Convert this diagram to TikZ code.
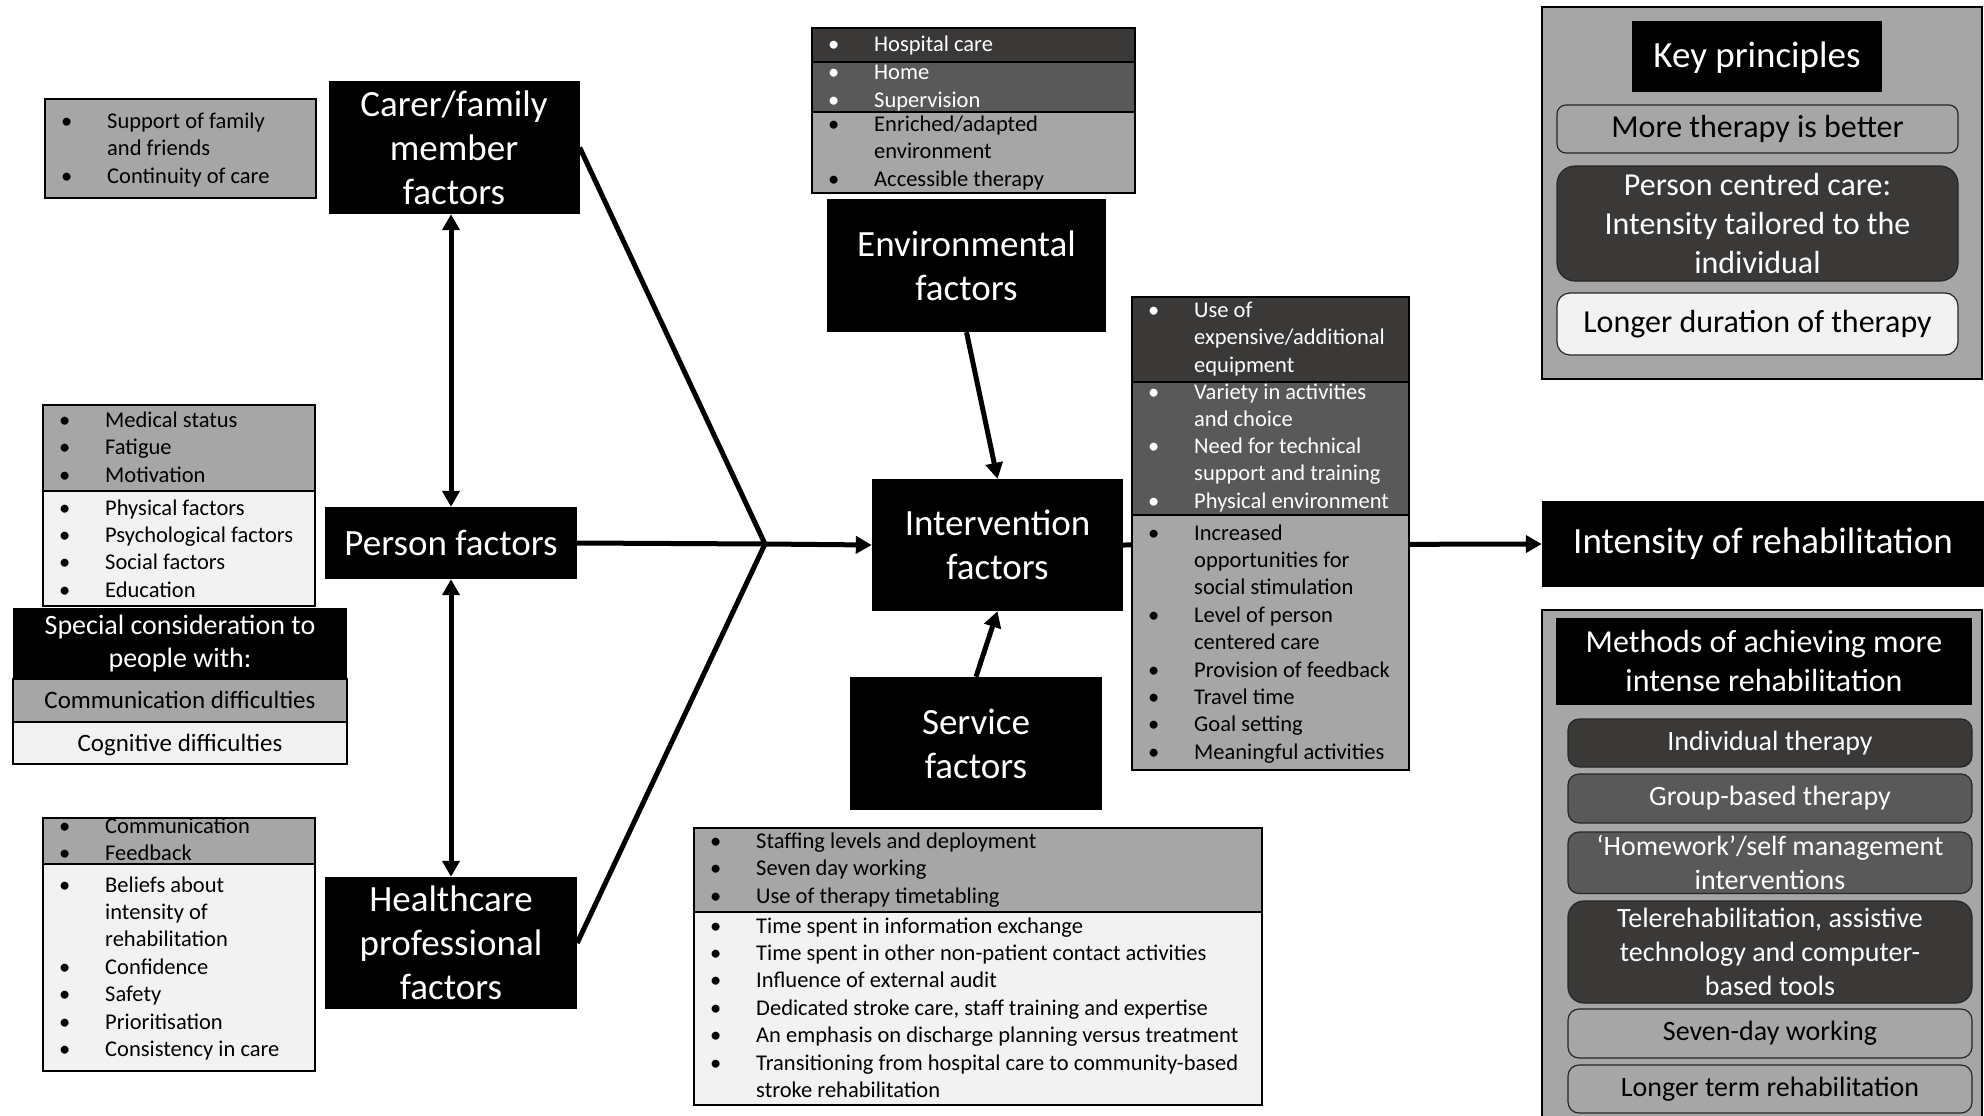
\documentclass[tikz,border=0pt]{standalone}
\usepackage{fontspec}
\setmainfont{Carlito}
\usetikzlibrary{arrows.meta}
\definecolor{gA}{HTML}{A6A6A6}
\definecolor{gL}{HTML}{F2F2F2}
\definecolor{gD}{HTML}{3B3838}
\definecolor{gM}{HTML}{595959}
\newcommand\fsz[2]{\fontsize{#1}{#2}\selectfont}
% list box: x1 y1 x2 y2 fill
\newcommand\lbox[5]{\filldraw[fill=#5, draw=black, line width=1.5pt] (#1,#2) rectangle (#3,#4);}
% bullet items: name, box-left x, first baseline, line step, text colour, list of bullet/text
\newcommand\items[6]{%
  \foreach \bul/\lbl [count=\k] in {#6} {%
    \node[lst, text=#5] (#1-\k) at (#2+62, {#3+(\k-1)*#4}) {\lbl};
    \ifnum\bul=1 \node[lst, text=#5] (#1-b\k) at (#2+16, {#3+(\k-1)*#4}) {•};\fi
  }%
}
\begin{document}
\begin{tikzpicture}[x=1pt,y=-1pt,
  blk/.style={fill=black, text=white, inner sep=0pt, align=center, font=\fsz{37}{44}},
  lst/.style={inner sep=0pt, anchor=base west, font=\fsz{22.5}{27}},
  kbox/.style={draw=black!85, line width=1.2pt, rounded corners=9pt, inner sep=0pt, align=center, font=\fsz{32}{39}},
  mbox/.style={draw=black!85, line width=1.2pt, rounded corners=11pt, inner sep=0pt, align=center, font=\fsz{28}{34}},
  conn/.style={line width=5pt},
  arr/.style={line width=5pt, -{Triangle[width=17pt,length=16pt]}},
  arrb/.style={line width=5pt, {Triangle[width=17pt,length=16pt]}-{Triangle[width=17pt,length=16pt]}}
]
\useasboundingbox (0,0) rectangle (1984,1116);
\fill[white] (0,0) rectangle (1984,1116);

% main factor boxes
\node[blk, minimum width=251, minimum height=133] (carer) at (454,147.5) {Carer/family\\member\\factors};
\node[blk, minimum width=252, minimum height=72] (person) at (451,543) {Person factors};
\node[blk, minimum width=252, minimum height=132] (hcp) at (451,943) {Healthcare\\professional\\factors};
\node[blk, minimum width=279, minimum height=133] (env) at (966.5,265.5) {Environmental\\factors};
\node[blk, minimum width=251, minimum height=132] (interv) at (997.5,545) {Intervention\\factors};
\node[blk, minimum width=252, minimum height=133] (serv) at (976,743.5) {Service\\factors};
\node[blk, minimum width=442, minimum height=86] (intens) at (1763,544) {Intensity of rehabilitation};
\coordinate (J) at (765,544);

% connectors
\draw[arrb] (person.north |- carer.south) -- (person.north);
\draw[arrb] (person.south) -- (hcp.north);
\draw[conn, line join=miter] (carer.east) -- (J) -- (hcp.east);
\draw[conn] (person.east) -- (J);
\draw[arr] (J) -- (interv.west);
\draw[arr] (env.south) -- (interv.north);
\draw[arr] (serv.north) -- (interv.south);
\draw[arr] (interv.east) -- (intens.west);

% carer list
\lbox{45}{99}{316}{198}{gA}
\items{sup}{45}{128}{27.5}{black}{1/Support of family, 0/and friends, 1/Continuity of care}

% person lists
\lbox{43}{405}{315}{491}{gA}
\items{med}{43}{427}{27.5}{black}{1/Medical status, 1/Fatigue, 1/Motivation}
\lbox{43}{491}{315}{606}{gL}
\items{phy}{43}{515}{27.4}{black}{1/Physical factors, 1/Psychological factors, 1/Social factors, 1/Education}
\node[blk, font=\fsz{28}{33}, minimum width=334, minimum height=71] (spec) at (180,643.5) {Special consideration to\\people with:};
\lbox{13}{679}{347}{722}{gA}
\node[inner sep=0pt, anchor=base, font=\fsz{25}{30}] (commd) at (180,708) {Communication difficulties};
\lbox{13}{722}{347}{764}{gL}
\node[inner sep=0pt, anchor=base, font=\fsz{25}{30}] (cogd) at (180,751) {Cognitive difficulties};

% healthcare professional lists
\lbox{43}{818}{315}{864}{gA}
\items{hc}{43}{833}{27}{black}{1/Communication, 1/Feedback}
\lbox{43}{864}{315}{1071}{gL}
\items{bel}{43}{892}{27.4}{black}{1/Beliefs about, 0/intensity of, 0/rehabilitation, 1/Confidence, 1/Safety, 1/Prioritisation, 1/Consistency in care}

% environmental lists
\lbox{812}{28}{1135}{62}{gD}
\items{hos}{812}{52}{27}{white}{1/Hospital care}
\lbox{812}{62}{1135}{112}{gM}
\items{hom}{812}{80}{27}{white}{1/Home, 1/Supervision}
\lbox{812}{112}{1135}{193}{gA}
\items{enr}{812}{131}{27.5}{black}{1/{Enriched/adapted}, 0/environment, 1/Accessible therapy}

% intervention lists
\lbox{1132}{297}{1409}{382}{gD}
\items{use}{1132}{317}{27.5}{white}{1/Use of, 0/{expensive/additional}, 0/equipment}
\lbox{1132}{382}{1409}{515}{gM}
\items{var}{1132}{399}{27.3}{white}{1/Variety in activities, 0/and choice, 1/Need for technical, 0/support and training, 1/Physical environment}
\lbox{1132}{515}{1409}{770}{gA}
\items{inc}{1132}{540}{27.4}{black}{1/Increased, 0/opportunities for, 0/social stimulation, 1/Level of person, 0/centered care, 1/Provision of feedback, 1/Travel time, 1/Goal setting, 1/Meaningful activities}

% service lists
\lbox{694}{828}{1262}{912}{gA}
\items{stf}{694}{848}{27.5}{black}{1/Staffing levels and deployment, 1/Seven day working, 1/Use of therapy timetabling}
\lbox{694}{912}{1262}{1105}{gL}
\items{tim}{694}{933}{27.4}{black}{1/Time spent in information exchange, 1/Time spent in other non-patient contact activities, 1/Influence of external audit, 1/{Dedicated stroke care, staff training and expertise}, 1/An emphasis on discharge planning versus treatment, 1/Transitioning from hospital care to community-based, 0/stroke rehabilitation}

% key principles panel
\filldraw[fill=gA, draw=black, line width=2pt] (1542,7) rectangle (1982,379);
\node[blk, minimum width=250, minimum height=71, text depth=4pt] (keyh) at (1757,56.5) {Key principles};
\node[kbox, fill=gA, minimum width=401, minimum height=48] (more) at (1757.5,129) {More therapy is better};
\node[kbox, fill=gD, text=white, rounded corners=18pt, minimum width=401, minimum height=115] (pcc) at (1757.5,223.5) {Person centred care:\\Intensity tailored to the\\individual};
\node[kbox, fill=gL, rounded corners=13pt, minimum width=401, minimum height=62] (longer) at (1757.5,324) {Longer duration of therapy};

% methods panel
\filldraw[fill=gA, draw=black, line width=2pt] (1542,610) rectangle (1982,1135);
\node[blk, font=\fsz{32}{39}, minimum width=416, minimum height=87] (methh) at (1764,661.5) {Methods of achieving more\\intense rehabilitation};
\node[mbox, fill=gD, text=white, minimum width=404, minimum height=48] (indiv) at (1770,743) {Individual therapy};
\node[mbox, fill=gM, text=white, minimum width=404, minimum height=49] (group) at (1770,798.5) {Group-based therapy};
\node[mbox, fill=gM, text=white, minimum width=404, minimum height=61.5] (homew) at (1770,862.75) {‘Homework’/self management\\interventions};
\node[mbox, fill=gD, text=white, rounded corners=16pt, minimum width=404, minimum height=102] (tele) at (1770,952) {Telerehabilitation, assistive\\technology and computer-\\based tools};
\node[mbox, fill=gA, minimum width=404, minimum height=49] (seven) at (1770,1033.5) {Seven-day working};
\node[mbox, fill=gA, minimum width=404, minimum height=48] (lterm) at (1770,1089) {Longer term rehabilitation};
\end{tikzpicture}
\end{document}
